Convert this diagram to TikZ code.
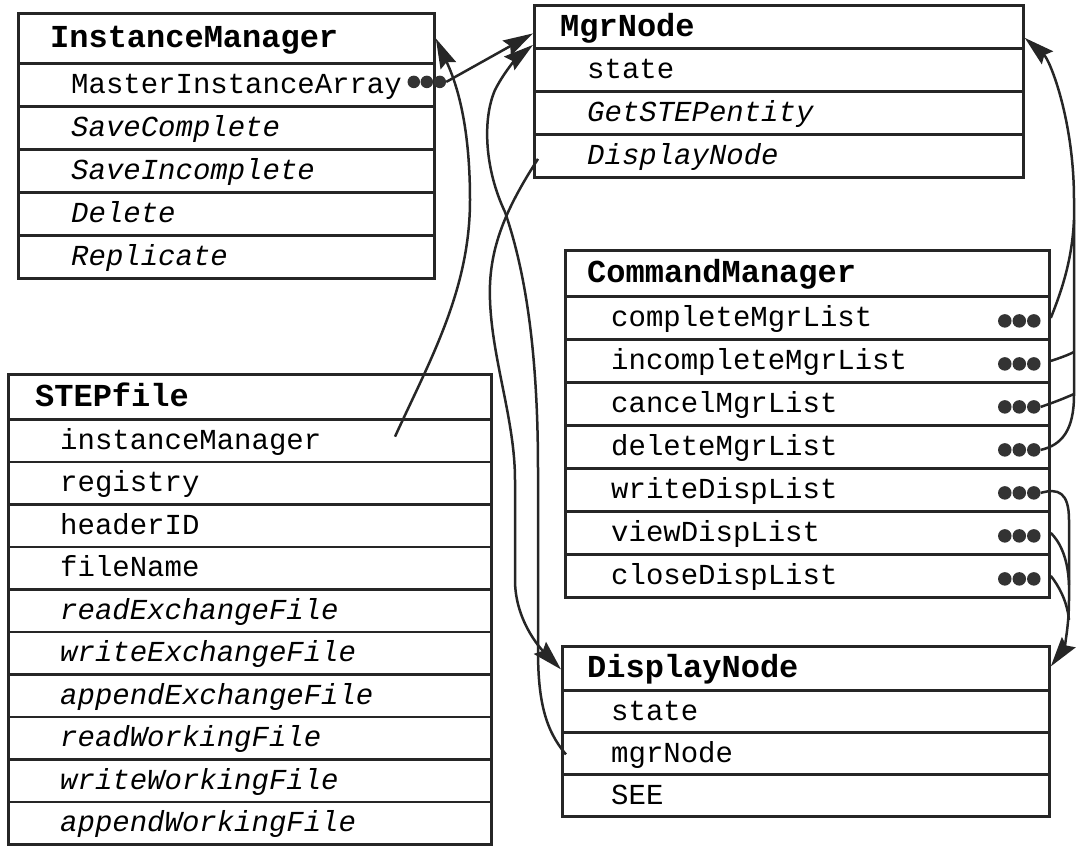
\documentclass[tikz,border=0pt]{standalone}
\usepackage{fontspec}
\newfontfamily\cour{Liberation Mono}
\usetikzlibrary{arrows.meta}
\tikzset{
  cell/.style={draw=black!85, line width=2.8pt, fill=white, anchor=north west, inner sep=0pt},
  itm/.style={anchor=west, inner sep=0pt, yshift=-4pt, text height=18pt, text depth=6pt, font=\cour\fontsize{29}{34}\selectfont},
  itmi/.style={itm, font=\cour\itshape\fontsize{29}{34}\selectfont},
  hdr/.style={anchor=west, inner sep=0pt, yshift=-4pt, text height=20pt, text depth=6.5pt, font=\cour\bfseries\fontsize{32}{38}\selectfont},
  dot/.style={circle, fill=black!80, inner sep=0pt, minimum size=13.5pt},
  conn/.style={line width=2.5pt, draw=black!85},
  arr/.style={conn, -{Stealth[length=30pt,width=17pt,inset=4pt]}},
}
\newcommand\cellrow[8]{%
  \node[cell, minimum width=#4pt, minimum height=#5pt] (#1) at (#2,#3) {};
  \node[#7] (#1-t) at (#6,#3+#5/2) {#8};}
\begin{document}
\begin{tikzpicture}[x=1pt,y=-1pt]
\useasboundingbox (0,0) rectangle (1080,849);
% InstanceManager
\cellrow{im0}{17}{12}{416}{50}{50}{hdr}{InstanceManager}
\cellrow{im1}{17}{62}{416}{43}{71}{itm}{MasterInstanceArray}
\cellrow{im2}{17}{105}{416}{43}{71}{itmi}{SaveComplete}
\cellrow{im3}{17}{148}{416}{43}{71}{itmi}{SaveIncomplete}
\cellrow{im4}{17}{191}{416}{43}{71}{itmi}{Delete}
\cellrow{im5}{17}{234}{416}{43}{71}{itmi}{Replicate}
% MgrNode
\cellrow{mgr0}{533}{4}{489}{43}{560}{hdr}{MgrNode}
\cellrow{mgr1}{533}{47}{489}{43}{587}{itm}{state}
\cellrow{mgr2}{533}{90}{489}{43}{587}{itmi}{GetSTEPentity}
\cellrow{mgr3}{533}{133}{489}{43}{587}{itmi}{DisplayNode}
% CommandManager
\cellrow{cm0}{564}{249}{484}{46}{587}{hdr}{CommandManager}
\cellrow{cm1}{564}{295}{484}{43}{611}{itm}{completeMgrList}
\cellrow{cm2}{564}{338}{484}{43}{611}{itm}{incompleteMgrList}
\cellrow{cm3}{564}{381}{484}{43}{611}{itm}{cancelMgrList}
\cellrow{cm4}{564}{424}{484}{43}{611}{itm}{deleteMgrList}
\cellrow{cm5}{564}{467}{484}{43}{611}{itm}{writeDispList}
\cellrow{cm6}{564}{510}{484}{43}{611}{itm}{viewDispList}
\cellrow{cm7}{564}{553}{484}{43}{611}{itm}{closeDispList}
% DisplayNode
\cellrow{dn0}{561}{645}{487}{44}{587}{hdr}{DisplayNode}
\cellrow{dn1}{561}{689}{487}{42}{611}{itm}{state}
\cellrow{dn2}{561}{731}{487}{42}{611}{itm}{mgrNode}
\cellrow{dn3}{561}{773}{487}{42}{611}{itm}{SEE}
% STEPfile
\cellrow{sf0}{7}{373}{483}{45}{35}{hdr}{STEPfile}
\cellrow{sf1}{7}{418}{483}{42.5}{60}{itm}{instanceManager}
\cellrow{sf2}{7}{460.5}{483}{42.5}{60}{itm}{registry}
\cellrow{sf3}{7}{503}{483}{42.5}{60}{itm}{headerID}
\cellrow{sf4}{7}{545.5}{483}{42.5}{60}{itm}{fileName}
\cellrow{sf5}{7}{588}{483}{42.5}{60}{itmi}{readExchangeFile}
\cellrow{sf6}{7}{630.5}{483}{42.5}{60}{itmi}{writeExchangeFile}
\cellrow{sf7}{7}{673}{483}{42.5}{60}{itmi}{appendExchangeFile}
\cellrow{sf8}{7}{715.5}{483}{42.5}{60}{itmi}{readWorkingFile}
\cellrow{sf9}{7}{758}{483}{42.5}{60}{itmi}{writeWorkingFile}
\cellrow{sf10}{7}{800.5}{483}{42.5}{60}{itmi}{appendWorkingFile}
% dots
\foreach \i in {1,...,7}{
  \foreach \j/\dx in {1/-46,2/-31.5,3/-17}{
    \node[dot] (cmd\i-\j) at ([xshift=\dx pt,yshift=-3pt]cm\i.east) {};}}
\foreach \j/\dx in {1/-22,2/-9,3/4}{
  \node[dot, minimum size=12.5pt] (imd-\j) at ([xshift=\dx pt,yshift=3pt]im1.east) {};}
% connectors
\draw[arr] (imd-3.east) -- ([yshift=-6.5pt]mgr0.west);
\draw[arr] ([xshift=388pt,yshift=4pt]sf1.west) .. controls (430,360) and (470,290) .. (470,200)
   .. controls (470,120) and (455,80) .. (im0.east);
\draw[arr] ([xshift=5pt,yshift=-3pt]mgr3.west) .. controls (505,210) and (488,250) .. (490,300)
   .. controls (492,360) and (515,420) .. (515,480) -- (515,580)
   .. controls (515,620) and (540,648) .. ([yshift=-1pt]dn0.west);
\draw[arr] ([xshift=5pt,yshift=-1pt]dn2.west) .. controls (545,730) and (538,700) .. (538,650)
   -- (538,470) .. controls (538,350) and (525,270) .. (505,212)
   .. controls (485,170) and (482,120) .. (495,90)
   .. controls (505,70) and (520,55) .. ([yshift=-18pt]mgr0.west);
% right bus to MgrNode
\draw[arr] (cmd4-3.east) .. controls (1062,445) and (1074,430) .. (1074,395) -- (1074,200)
   .. controls (1074,120) and (1050,60) .. ([yshift=-11pt]mgr0.east);
\draw[conn] (cm1.east) .. controls (1062,290) and (1072,260) .. (1074,220);
\draw[conn] (cm2.east) .. controls (1060,358) and (1068,355) .. (1074,352);
\draw[conn] (cmd3-3.east) .. controls (1055,402) and (1065,398) .. (1074,394);
% right bus to DisplayNode
\draw[arr] (cmd5-3.east) .. controls (1058,488) and (1069,492) .. (1069,520) -- (1069,600)
   .. controls (1069,630) and (1063,650) .. ([yshift=2pt]dn0.east);
\draw[conn] (cm6.east) .. controls (1058,540) and (1068,555) .. (1069,585);
\draw[conn] (cm7.east) .. controls (1058,585) and (1067,600) .. (1069,620);
\end{tikzpicture}
\end{document}
